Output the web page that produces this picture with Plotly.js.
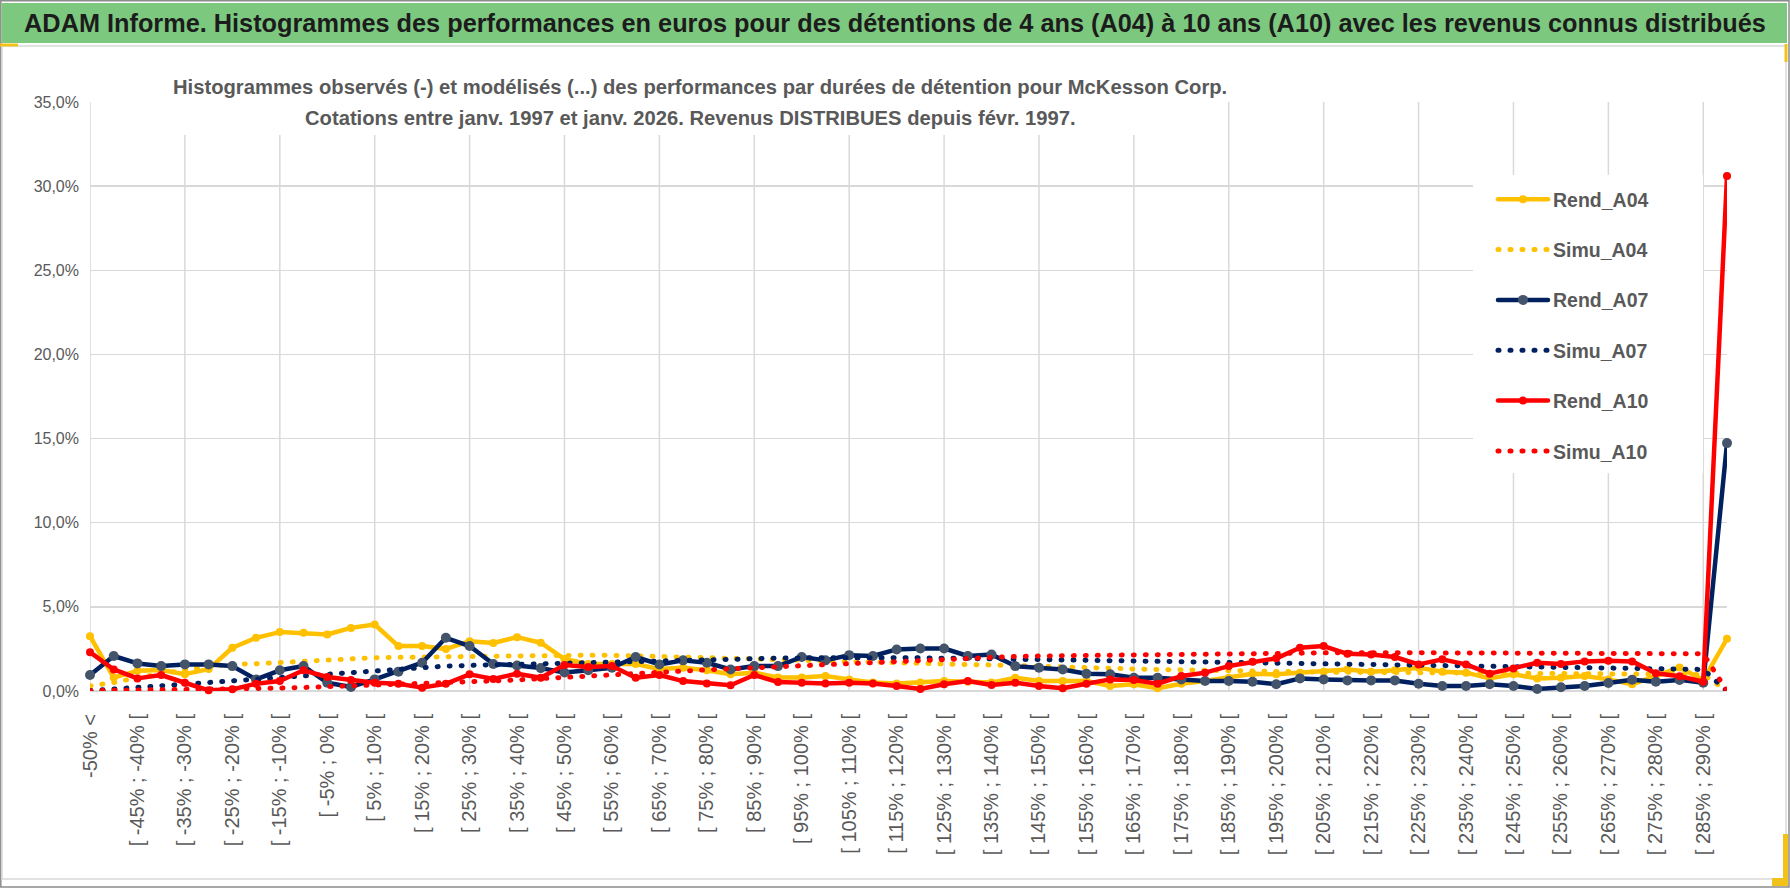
<!DOCTYPE html>
<html>
<head>
<meta charset="utf-8">
<script src="https://cdn.plot.ly/plotly-3.0.1.min.js"></script>
<style>
html,body{margin:0;padding:0;background:#fff;}
#chart{width:1790px;height:888px;}
.scatterlayer .js-line, .legendlines path{stroke-linecap:round;stroke-linejoin:round;}
</style>
</head>
<body>
<div id="chart"></div>
<script>
const categories = [
"-50% <","[ -50% ; -45% [","[ -45% ; -40% [","[ -40% ; -35% [","[ -35% ; -30% [","[ -30% ; -25% [",
"[ -25% ; -20% [","[ -20% ; -15% [","[ -15% ; -10% [","[ -10% ; -5% [","[ -5% ; 0% [",
"[ 0% ; 5% [","[ 5% ; 10% [","[ 10% ; 15% [","[ 15% ; 20% [","[ 20% ; 25% [","[ 25% ; 30% [",
"[ 30% ; 35% [","[ 35% ; 40% [","[ 40% ; 45% [","[ 45% ; 50% [","[ 50% ; 55% [","[ 55% ; 60% [",
"[ 60% ; 65% [","[ 65% ; 70% [","[ 70% ; 75% [","[ 75% ; 80% [","[ 80% ; 85% [","[ 85% ; 90% [",
"[ 90% ; 95% [","[ 95% ; 100% [","[ 100% ; 105% [","[ 105% ; 110% [","[ 110% ; 115% [","[ 115% ; 120% [",
"[ 120% ; 125% [","[ 125% ; 130% [","[ 130% ; 135% [","[ 135% ; 140% [","[ 140% ; 145% [","[ 145% ; 150% [",
"[ 150% ; 155% [","[ 155% ; 160% [","[ 160% ; 165% [","[ 165% ; 170% [","[ 170% ; 175% [","[ 175% ; 180% [",
"[ 180% ; 185% [","[ 185% ; 190% [","[ 190% ; 195% [","[ 195% ; 200% [","[ 200% ; 205% [","[ 205% ; 210% [",
"[ 210% ; 215% [","[ 215% ; 220% [","[ 220% ; 225% [","[ 225% ; 230% [","[ 230% ; 235% [","[ 235% ; 240% [",
"[ 240% ; 245% [","[ 245% ; 250% [","[ 250% ; 255% [","[ 255% ; 260% [","[ 260% ; 265% [","[ 265% ; 270% [",
"[ 270% ; 275% [","[ 275% ; 280% [","[ 280% ; 285% [","[ 285% ; 290% [","> 290%"
];

// values in percent
const rendA04 = [
3.26,0.80,1.20,1.25,1.00,1.30,2.57,3.16,3.50,3.46,
3.36,3.75,3.95,2.67,2.67,2.50,2.95,2.85,3.20,2.87,
1.90,1.60,1.60,1.60,1.30,1.38,1.23,1.00,1.09,0.80,
0.80,0.89,0.69,0.50,0.45,0.50,0.59,0.55,0.50,0.79,
0.59,0.59,0.59,0.30,0.40,0.16,0.43,0.59,0.79,1.03,
0.99,1.09,1.15,1.28,1.15,1.23,1.38,1.15,1.09,0.75,
0.99,0.75,0.79,0.89,0.69,0.40,0.90,1.40,0.65,3.10];
const simuA04 = [
0.30,0.50,0.80,1.05,1.25,1.45,1.60,1.62,1.70,1.80,
1.88,1.95,1.98,2.00,2.02,2.05,2.08,2.10,2.12,2.13,
2.13,2.13,2.12,2.10,2.05,2.00,1.98,1.94,1.90,1.85,
1.80,1.75,1.70,1.66,1.62,1.60,1.58,1.57,1.55,1.50,
1.46,1.43,1.40,1.35,1.31,1.28,1.25,1.22,1.18,1.16,
1.14,1.13,1.12,1.12,1.11,1.11,1.10,1.10,1.09,1.08,
1.07,1.06,1.05,1.04,1.03,1.02,1.01,1.00,0.98,0.00];
const rendA07 = [
0.95,2.08,1.64,1.48,1.58,1.58,1.48,0.69,1.23,1.48,
0.49,0.24,0.69,1.15,1.68,3.16,2.67,1.60,1.52,1.36,
1.10,1.23,1.38,2.02,1.58,1.82,1.68,1.28,1.48,1.48,
2.02,1.82,2.13,2.08,2.47,2.53,2.53,2.08,2.17,1.48,
1.38,1.28,1.03,0.99,0.79,0.79,0.69,0.59,0.59,0.55,
0.40,0.75,0.69,0.63,0.63,0.63,0.43,0.30,0.30,0.40,
0.30,0.12,0.22,0.30,0.48,0.67,0.55,0.66,0.49,14.73];
const simuA07 = [
0.02,0.12,0.22,0.32,0.42,0.50,0.57,0.66,0.76,0.88,
0.98,1.06,1.17,1.28,1.40,1.48,1.52,1.57,1.60,1.62,
1.65,1.68,1.72,1.75,1.80,1.85,1.88,1.92,1.94,1.95,
1.97,1.98,1.98,1.98,1.98,1.97,1.95,1.93,1.90,1.88,
1.85,1.83,1.80,1.78,1.76,1.74,1.72,1.70,1.68,1.65,
1.62,1.60,1.58,1.57,1.56,1.54,1.52,1.50,1.48,1.47,
1.45,1.43,1.42,1.40,1.38,1.36,1.33,1.30,1.28,0.00];
const rendA10 = [
2.31,1.28,0.75,0.95,0.49,0.04,0.10,0.43,0.59,1.23,
0.83,0.65,0.49,0.43,0.20,0.43,0.99,0.72,1.03,0.79,
1.54,1.42,1.48,0.79,0.95,0.59,0.45,0.34,0.95,0.53,
0.49,0.45,0.49,0.45,0.30,0.12,0.40,0.59,0.36,0.49,
0.30,0.16,0.43,0.69,0.65,0.43,0.89,1.09,1.48,1.74,
1.94,2.57,2.67,2.21,2.17,2.02,1.58,1.88,1.58,1.03,
1.34,1.68,1.60,1.76,1.80,1.76,1.05,0.88,0.55,30.60];
const simuA10 = [
0.02,0.03,0.04,0.05,0.07,0.09,0.11,0.14,0.17,0.21,
0.25,0.29,0.33,0.38,0.43,0.48,0.54,0.60,0.66,0.74,
0.82,0.90,1.00,1.08,1.14,1.20,1.26,1.32,1.38,1.46,
1.54,1.58,1.64,1.68,1.74,1.83,1.92,1.98,2.02,2.05,
2.08,2.10,2.13,2.15,2.17,2.19,2.20,2.22,2.24,2.25,
2.26,2.27,2.28,2.28,2.28,2.27,2.27,2.27,2.26,2.26,
2.25,2.25,2.24,2.24,2.23,2.23,2.22,2.22,2.21,0.00];

const seriesNames = ["Rend_A04","Simu_A04","Rend_A07","Simu_A07","Rend_A10","Simu_A10"];

const TITLE = "ADAM Informe. Histogrammes des performances en euros pour des détentions de 4 ans (A04) à 10 ans (A10) avec les revenus connus distribués";
const SUB1 = "Histogrammes observés (-) et modélisés (...) des performances par durées de détention pour McKesson Corp.";
const SUB2 = "Cotations entre janv. 1997 et janv. 2026. Revenus DISTRIBUES depuis févr. 1997.";

const FONT = '"Liberation Sans", Arial, "DejaVu Sans", sans-serif';
function fit(text, weight, target){
  const c = document.createElement('canvas').getContext('2d');
  c.font = weight + ' 100px "Liberation Sans", Arial, sans-serif';
  return 100 * target / c.measureText(text).width;
}

// geometry (pixels)
const W = 1790, H = 888;
const M = {l:90, r:63, t:102, b:197};
const PW = W - M.l - M.r, PH = H - M.t - M.b;
const px = v => (v - M.l) / PW;
const py = v => (H - M.b - v) / PH;

const pct = a => a.map(v => v / 100);
const YEL = '#FFC000', NAVY = '#002060', RED = '#FF0000';

function rend(name, vals, color, mcolor, msize){
  return {type:'scatter', mode:'lines+markers', name:name, x:categories, y:pct(vals),
    line:{color:color, width:4.5}, marker:{color:mcolor, size:msize},
    cliponaxis:false, legendgroup:name};
}
function simu(name, vals, color){
  return {type:'scatter', mode:'lines', name:name, x:categories, y:pct(vals),
    line:{color:color, width:5, dash:'1px,11px'}, cliponaxis:false, legendgroup:name};
}

const traces = [
  rend(seriesNames[0], rendA04, YEL, YEL, 8),
  simu(seriesNames[1], simuA04, YEL),
  rend(seriesNames[2], rendA07, NAVY, '#44546A', 10),
  simu(seriesNames[3], simuA07, NAVY),
  rend(seriesNames[4], rendA10, RED, RED, 8),
  simu(seriesNames[5], simuA10, RED)
];

const labelVals = categories.filter((c,i) => i % 2 === 0);

const shapes = [];
// outer frame and chart border
shapes.push({type:'rect', xref:'paper', yref:'paper', x0:px(0.8), x1:px(1789), y0:py(0.8), y1:py(887), line:{color:'#8c8c8c', width:1.5}, layer:'below'});
shapes.push({type:'rect', xref:'paper', yref:'paper', x0:px(2), x1:px(1786), y0:py(46), y1:py(879), line:{color:'#d9d9d9', width:1.5}, layer:'below'});
// green title band
shapes.push({type:'rect', xref:'paper', yref:'paper', x0:px(1.5), x1:px(1787), y0:py(3), y1:py(43), fillcolor:'#7dc87f', line:{width:0}, layer:'below'});
// vertical gridlines every 4 categories
categories.forEach((c,i) => {
  if (i % 4 === 0) {
    shapes.push({type:'line', xref:'x', yref:'paper', x0:i, x1:i, y0:0, y1:1, line:{color:'#d9d9d9', width:1.5}, layer:'below'});
  }
});
// white boxes behind subtitle and legend
shapes.push({type:'rect', xref:'paper', yref:'paper', x0:px(172), x1:px(1224), y0:py(66), y1:py(135), fillcolor:'#ffffff', line:{width:0}, layer:'above'});
shapes.push({type:'rect', xref:'paper', yref:'paper', x0:px(1473), x1:px(1703), y0:py(175), y1:py(473), fillcolor:'#ffffff', line:{width:0}, layer:'above'});
// yellow selection handles
shapes.push({type:'line', xref:'paper', yref:'paper', x0:px(0), x1:px(18), y0:py(45), y1:py(45), line:{color:'#f2c21b', width:3}, layer:'above'});
shapes.push({type:'line', xref:'paper', yref:'paper', x0:px(1786), x1:px(1786), y0:py(44), y1:py(62), line:{color:'#f2c21b', width:3}, layer:'above'});
shapes.push({type:'rect', xref:'paper', yref:'paper', x0:px(1772), x1:px(1788), y0:py(878), y1:py(886), fillcolor:'#f2c21b', line:{width:0}, layer:'above'});
shapes.push({type:'rect', xref:'paper', yref:'paper', x0:px(1783), x1:px(1788), y0:py(834), y1:py(886), fillcolor:'#f2c21b', line:{width:0}, layer:'above'});

const titleSize = fit(TITLE, 'bold', 1742);
const subSize = fit(SUB1, 'bold', 1055);

const layout = {
  width:W, height:H, margin:M,
  paper_bgcolor:'#ffffff', plot_bgcolor:'#ffffff',
  separators:', ',
  title:{text:'<b>' + TITLE + '</b>', font:{family:FONT, size:titleSize, color:'#1c1c1c'},
    x:0.5, xref:'container', xanchor:'center', y:1 - 23/H, yref:'container', yanchor:'middle'},
  xaxis:{type:'category', categoryorder:'array', categoryarray:categories, range:[0, categories.length - 1],
    tickmode:'array', tickvals:labelVals, ticktext:labelVals, tickangle:-90,
    tickfont:{family:FONT, size:20, color:'#595959'}, ticks:'', ticklabelstandoff:18,
    showgrid:false, zeroline:false, showline:false, fixedrange:true},
  yaxis:{range:[0, 0.35], tick0:0, dtick:0.05, tickformat:'.1%',
    tickfont:{family:FONT, size:16, color:'#595959'}, ticks:'', ticklabelstandoff:10,
    showgrid:true, gridcolor:'#d9d9d9', gridwidth:1.5,
    zeroline:true, zerolinecolor:'#d9d9d9', zerolinewidth:1.5, showline:false, fixedrange:true},
  showlegend:true,
  legend:{x:px(1493), xanchor:'left', y:py(180), yanchor:'top', bgcolor:'rgba(0,0,0,0)', borderwidth:0,
    font:{family:FONT, size:19.5, color:'#595959', weight:'bold'}, itemwidth:50, tracegroupgap:22, traceorder:'grouped'},
  shapes:shapes,
  annotations:[
    {xref:'paper', yref:'paper', x:px(700), y:py(87), xanchor:'center', yanchor:'middle', showarrow:false,
     text:'<b>' + SUB1 + '</b>', font:{family:FONT, size:subSize, color:'#595959'}},
    {xref:'paper', yref:'paper', x:px(690), y:py(118), xanchor:'center', yanchor:'middle', showarrow:false,
     text:'<b>' + SUB2 + '</b>', font:{family:FONT, size:subSize, color:'#595959'}}
  ]
};

Plotly.newPlot('chart', traces, layout, {displayModeBar:false, staticPlot:true});
</script>
</body>
</html>
